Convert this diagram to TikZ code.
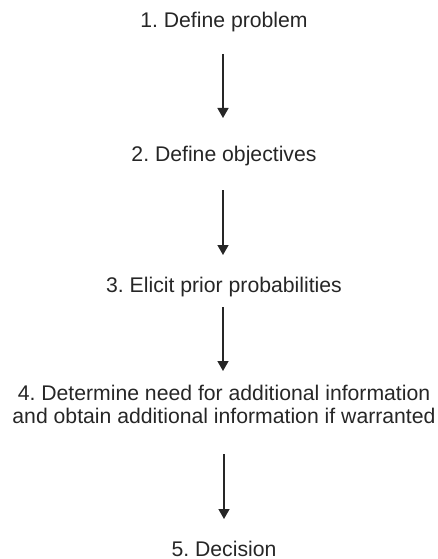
\documentclass[tikz,border=0pt]{standalone}
\usepackage{fontspec}
\setmainfont{Liberation Sans}
\usetikzlibrary{arrows.meta}
\tikzset{
  stage/.style={anchor=base, align=center, inner sep=0pt, font=\fontsize{21.2}{23}\selectfont\frenchspacing, text=black!85},
  flow/.style={line width=1.4pt, draw=black!85, -{Triangle[width=11pt,length=10pt]}}
}
\begin{document}
\begin{tikzpicture}[x=1pt,y=-1pt]
\useasboundingbox (0,0) rectangle (437,559);
\node[stage] (s1) at (224,28) {1. Define problem};
\node[stage] (s2) at (224,161) {2. Define objectives};
\node[stage] (s3) at (224,292) {3. Elicit prior probabilities};
\node[stage] (s4) at (224,423) {4. Determine need for additional information\\and obtain additional information if warranted};
\node[stage] (s5) at (224,556) {5. Decision};
\coordinate (a1s) at (223,54); \coordinate (a1e) at (223,118);
\coordinate (a2s) at (223,190); \coordinate (a2e) at (223,255);
\coordinate (a3s) at (223,307); \coordinate (a3e) at (223,371);
\coordinate (a4s) at (224,454); \coordinate (a4e) at (224,519);
\draw[flow] (a1s) -- (a1e);
\draw[flow] (a2s) -- (a2e);
\draw[flow] (a3s) -- (a3e);
\draw[flow] (a4s) -- (a4e);
\end{tikzpicture}
\end{document}
